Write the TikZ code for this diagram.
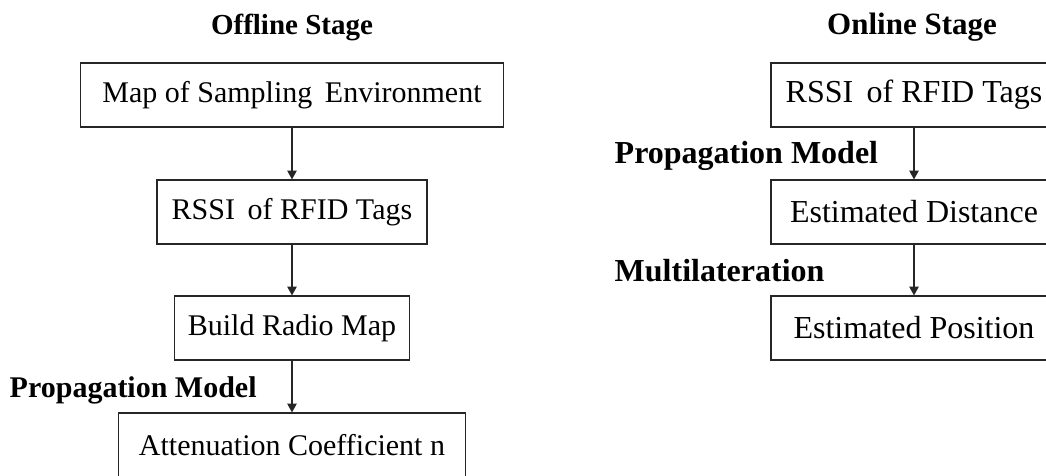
\documentclass[tikz,border=0pt]{standalone}
\usepackage{fontspec}
\setmainfont{Liberation Serif}
\usetikzlibrary{arrows.meta}

\tikzset{
	stagebox/.style = {draw = black!85, line width = 0.9pt, minimum height = 48pt, inner sep = 0pt},
	flow/.style = {draw = black!85, line width = 0.8pt, -{Triangle[length = 6.5pt, width = 7pt]}},
	leftfont/.style = {font = \fontsize{22.5}{27}\selectfont},
	rightfont/.style = {font = \fontsize{24}{29}\selectfont}
}

\begin{document}
\begin{tikzpicture}[x = 0.75pt, y = 0.75pt]

	\clip (0, 0) rectangle (1046, -475);

	\begin{scope}[leftfont]
		\node [font = \fontsize{21.75}{26}\selectfont\bfseries] (offline) at (292, -27) {Offline Stage};
		\node [stagebox, minimum width = 317pt] (map) at (292, -95) {Map of Sampling\hspace{0.42em}Environment};
		\node [stagebox, minimum width = 202.5pt] (rssiA) at (292, -212) {RSSI\hspace{0.42em}of RFID Tags};
		\node [stagebox, minimum width = 176pt] (radio) at (292, -328) {Build Radio Map};
		\node [stagebox, minimum width = 260pt] (coef) at (292, -445) {Attenuation Coefficient n};
		\node [anchor = west, font = \fontsize{22.5}{27}\selectfont\bfseries] (propA) at (5, -390) {Propagation Model};

		\draw [flow] (map) -- (rssiA);
		\draw [flow] (rssiA) -- (radio);
		\draw [flow] (radio) -- (coef);
	\end{scope}

	\begin{scope}[rightfont]
		\node [font = \fontsize{23.25}{28}\selectfont\bfseries] (online) at (912, -27) {Online Stage};
		\node [stagebox, minimum width = 214.5pt] (rssiB) at (914, -95) {RSSI\hspace{0.42em}of RFID Tags};
		\node [stagebox, minimum width = 214.5pt] (dist) at (914, -212) {Estimated Distance};
		\node [stagebox, minimum width = 214.5pt] (pos) at (914, -328) {Estimated Position};
		\node [anchor = west, font = \fontsize{24}{29}\selectfont\bfseries] (propB) at (610, -156) {Propagation Model};
		\node [anchor = west, font = \fontsize{24}{29}\selectfont\bfseries] (multi) at (610, -271) {Multilateration};

		\draw [flow] (rssiB) -- (dist);
		\draw [flow] (dist) -- (pos);
	\end{scope}

\end{tikzpicture}
\end{document}
